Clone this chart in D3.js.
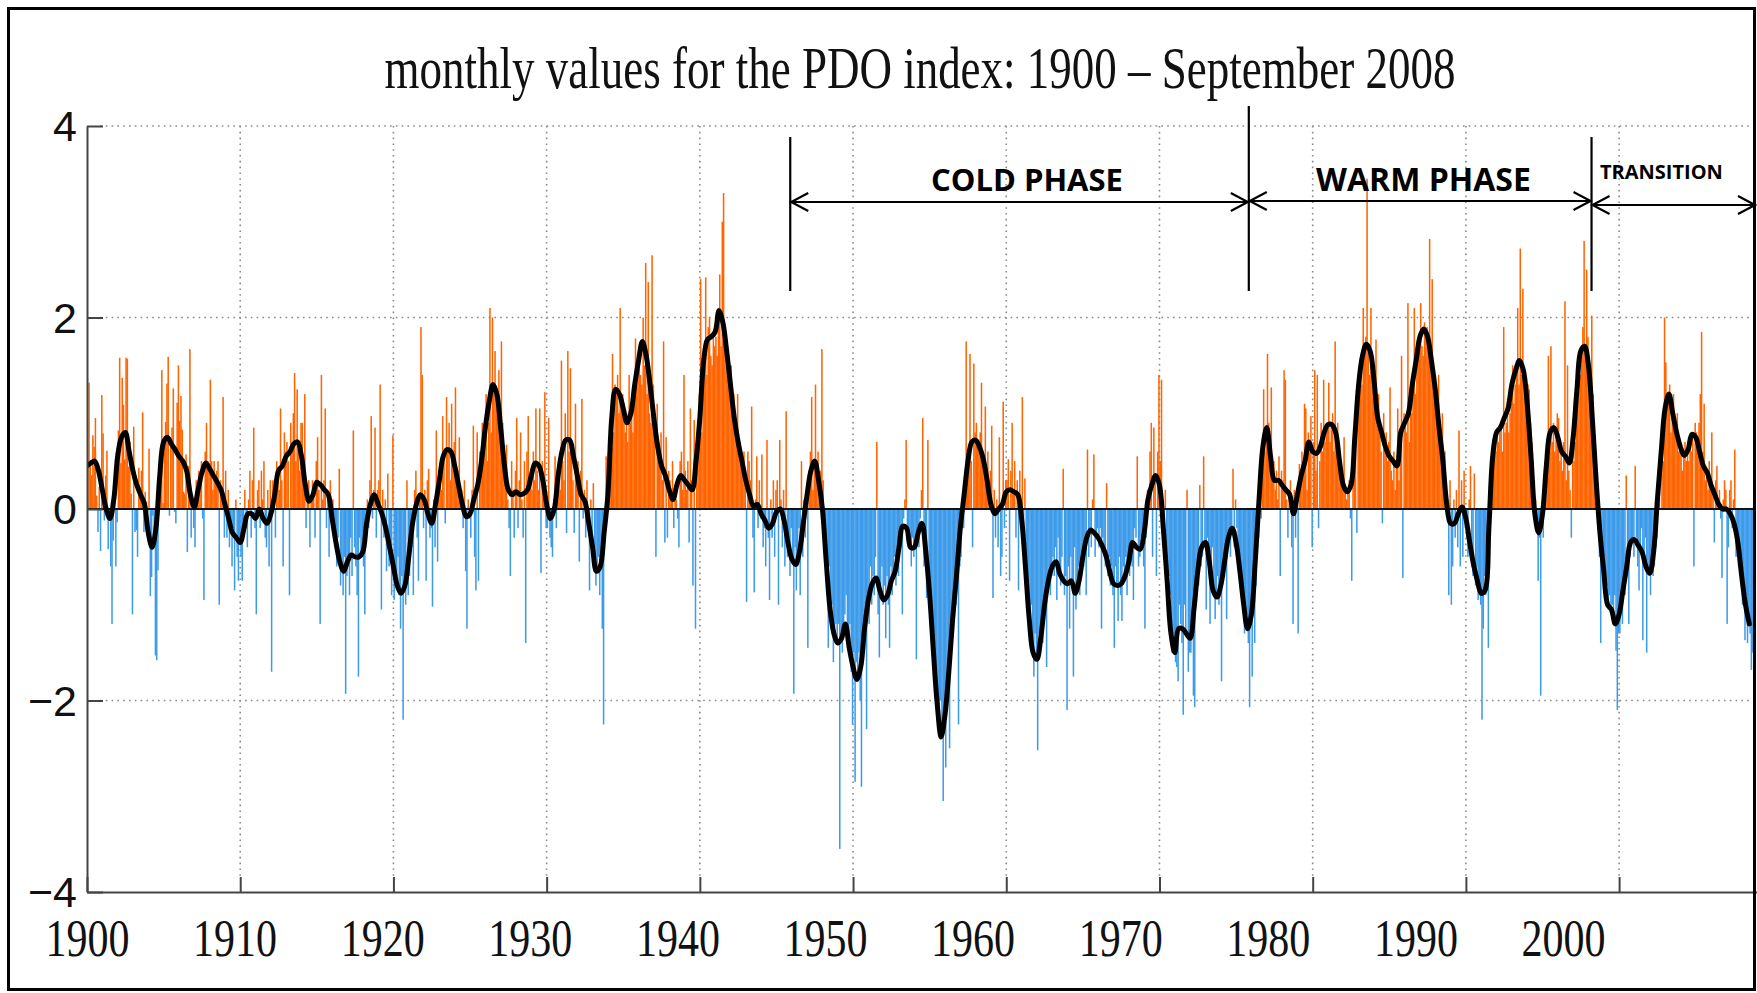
<!DOCTYPE html>
<html>
<head>
<meta charset="utf-8">
<script src="https://cdn.jsdelivr.net/npm/d3@7/dist/d3.min.js"></script>
<style>
  html, body { margin: 0; padding: 0; background: #fff; }
  svg { display: block; }
</style>
</head>
<body>
<svg id="chart"></svg>
<script>
(function () {
  'use strict';

  // monthly PDO values, one row per year (Jan..Dec)
  var pdo1900s = [
    [0.04, 1.32, 0.49, 0.35, 0.77, 0.65, 0.95, 0.14, -0.24, 0.23, -0.44, 1.19],
    [0.79, -0.12, 0.35, 0.61, -0.42, -0.05, -0.60, -1.20, -0.33, 0.16, -0.60, -0.14],
    [0.82, 1.58, 0.48, 1.37, 1.09, 0.52, 1.58, 1.57, 0.44, 0.70, 0.16, -1.10],
    [0.86, -0.24, -0.22, -0.50, 0.43, 0.23, 0.40, 1.01, -0.24, 0.18, 0.08, -0.03],
    [0.63, -0.91, -0.71, -0.07, -0.22, -1.53, -1.58, -0.64, 0.06, 0.43, 1.45, 0.06],
    [0.73, 0.91, 1.31, 1.59, -0.07, 0.69, 0.85, 1.26, -0.03, -0.15, 1.11, 1.50],
    [0.92, 1.18, 0.83, 0.18, 0.16, 0.57, -0.45, 0.45, 1.67, -0.3, 0.1, -0.2],
    [-0.4, 0.3, 0.1, 0.4, 0.2, 0.5, -0.1, -0.95, 0.6, 0.9, 0.5, 0.4],
    [1.35, 0.5, 0.2, 0.5, 0.3, 0.4, 0.5, -1.0, 0.3, 0.2, 1.17, -0.3],
    [0.4, -0.3, 0.2, -0.4, -0.1, -0.6, -0.2, -0.85, 0.1, -0.5, -0.75, -0.3]
  ];
  var pdo1910s = [
    [-0.5, -0.75, -0.3, 0.2, -0.2, -0.4, 0.1, 0.4, -0.3, 0.3, 0.85, -0.2],
    [-1.1, 0.2, 0.3, -0.2, 0.4, 0.1, 0.5, -0.3, -0.4, 0.2, -0.6, 0.3],
    [-1.7, 0.3, 0.1, -0.3, 0.5, 0.4, 0.2, 1.05, 0.3, -0.6, 0.8, 0.6],
    [0.7, 0.5, -0.9, 0.9, 0.6, 1.0, 1.42, 0.5, 1.25, 0.6, 0.4, 0.9],
    [0.9, 0.4, 1.2, -0.2, 0.2, 0.3, -0.4, 0.1, 0.3, 0.2, -0.3, 0.5],
    [0.75, 0.2, -1.2, 1.4, 0.1, 0.3, 1.05, -0.2, 0.2, -0.5, 0.3, 0.1],
    [0.1, -0.3, -0.2, -0.6, -0.3, 0.42, -0.8, -0.6, -0.9, -0.5, -1.93, -0.7],
    [-0.6, -0.9, -0.3, -0.7, 0.82, -0.4, -0.6, -0.9, -1.75, -0.3, -0.5, -0.4],
    [-0.6, -1.1, -0.3, 0.1, -0.2, 0.3, 0.97, -0.1, 0.2, 0.85, -0.3, 0.2],
    [0.3, 1.3, -1.05, 0.2, -0.3, 0.1, -0.65, 0.37, -0.6, -0.4, -0.9, 0.77]
  ];
  var pdo1920s = [
    [-0.95, -0.6, -0.8, -0.5, -0.9, -1.25, -0.7, -2.2, -0.8, -1.0, 0.3, -0.9],
    [-0.7, -0.3, -0.4, -0.9, 0.2, 0.4, -0.3, -0.75, 0.1, 1.9, 1.4, -0.2],
    [0.2, -0.75, 0.3, 0.42, -0.3, -0.2, -1.02, 0.1, -0.4, 0.82, -0.55, 0.4],
    [0.4, 0.2, 0.97, 0.5, -0.15, 1.17, 0.6, 0.9, 0.3, 1.1, 0.5, 0.7],
    [1.27, 0.3, 0.4, 0.75, 0.1, 0.2, -0.2, 0.3, -0.65, -1.25, 0.1, -0.1],
    [-0.3, 0.2, 0.87, -0.5, -0.85, 0.8, -0.75, 0.6, 0.4, 0.9, 0.5, 0.7],
    [1.2, 0.5, 0.9, 2.1, 0.8, 2.0, 1.3, 1.65, 1.1, 1.2, 1.45, 1.0],
    [1.75, 0.9, 0.6, 0.3, 0.67, 0.1, -0.2, -0.7, 0.5, 0.2, -0.3, 0.4],
    [0.95, -0.2, 0.3, 0.8, 0.1, -0.3, 0.5, -1.4, 0.6, 0.97, 0.2, 0.3],
    [0.2, 0.6, 0.3, 1.05, 0.4, 0.2, 1.05, -0.67, 0.5, 0.3, 1.22, -0.2]
  ];
  var pdo1930s = [
    [-0.2, 0.95, -0.3, -0.4, -0.5, 0.1, 0.55, -0.2, 0.3, 0.4, 0.2, 1.55],
    [0.5, 0.3, 1.0, -0.25, 1.65, 0.6, 1.47, 0.7, 0.3, -0.25, 1.1, 0.4],
    [0.5, -0.55, 0.4, 1.15, -0.1, 0.2, -0.3, 0.3, -0.2, -0.85, 0.1, -0.4],
    [0.27, -0.6, -0.8, -0.65, -0.5, -0.9, -0.6, -1.25, -2.25, -0.3, 0.55, 0.1],
    [0.2, 0.5, 1.0, 1.62, 0.8, 1.3, 1.2, 1.4, 1.0, 2.1, 1.1, 1.2],
    [1.1, 0.8, 1.0, 0.7, 1.4, 0.9, 1.0, 0.8, 1.2, 1.78, 1.3, 1.5],
    [1.65, 1.4, 1.3, 2.0, 1.5, 2.57, 1.2, 2.37, 1.0, 0.9, 2.65, 1.3],
    [0.9, -0.5, 1.1, 0.7, 0.5, 0.8, 0.3, 1.75, -0.35, 0.75, -0.3, 0.4],
    [0.3, 0.1, 0.5, -0.2, 0.2, 0.1, -0.1, -0.4, 0.5, 0.6, 0.2, 1.4],
    [0.4, 0.2, 0.5, -0.35, 1.05, 0.3, -0.8, 0.93, -1.25, 0.6, 0.9, 1.2]
  ];
  var pdo1940s = [
    [2.4, 0.8, 1.3, 1.6, 2.42, 1.4, 1.9, 2.0, 1.6, 1.5, 1.8, 1.7],
    [1.8, 1.6, 2.1, 2.45, 1.7, 3.0, 3.3, 1.9, 1.5, 1.7, 1.6, 1.4],
    [1.5, 1.1, 1.2, 0.9, 0.8, 1.2, 0.6, 0.7, 0.5, 0.4, 0.6, 0.4],
    [-0.97, 0.6, 0.5, 0.3, 1.07, -0.3, -0.87, 0.1, 0.55, -0.2, 0.3, -0.1],
    [0.57, -0.4, -0.2, -0.6, 0.72, -0.3, -0.95, 0.1, -0.3, 0.3, -0.5, 0.2],
    [0.3, -1.0, 0.72, 0.1, -0.4, 0.2, -0.6, 1.02, -0.5, -0.3, -0.7, -0.2],
    [-0.5, -1.93, -0.4, -0.85, -0.6, -0.2, -0.9, 0.5, -0.5, 0.1, -0.3, 0.2],
    [-1.45, 0.4, 0.6, 1.17, 0.2, 0.5, 1.3, 0.3, 0.6, 0.1, 0.4, 1.67],
    [0.3, -0.4, -0.3, -0.8, -1.45, -0.6, -1.1, -1.0, -1.6, -1.3, -1.2, -1.4],
    [-1.2, -3.55, -1.3, -1.5, -1.2, -1.1, -0.9, -1.4, -1.5, -1.2, -1.7, -2.25]
  ];
  var pdo1950s = [
    [-1.5, -2.85, -1.6, -1.8, -1.5, -2.0, -2.9, -1.4, -1.3, -1.0, -2.3, -0.9],
    [-1.2, -0.6, -1.0, -0.7, -0.9, -0.5, 0.7, -1.1, -1.55, -0.8, -0.6, -1.0],
    [-0.8, -1.35, -0.7, -1.0, -1.45, -0.6, -0.9, -0.7, -0.5, -0.8, -0.4, -0.7],
    [-0.2, -0.4, -1.1, -0.1, 0.1, 0.72, -0.3, -0.2, -0.4, -0.6, -0.3, -0.5],
    [-0.3, -1.57, -0.2, -0.4, -0.1, 0.2, 0.95, -0.6, -0.5, -0.93, 0.72, -0.8],
    [-0.8, -1.0, -1.2, -1.8, -1.6, -1.7, -2.1, -2.25, -2.0, -2.4, -3.05, -2.3],
    [-2.7, -2.0, -1.8, -2.5, -1.5, -1.3, -1.1, -0.9, -1.0, -0.5, -2.25, -0.6],
    [-0.5, 0.1, -0.2, 0.3, 1.75, 0.4, 0.6, 1.62, 0.5, -0.4, 1.52, 0.8],
    [0.9, 0.7, 0.6, 0.8, 1.32, 0.5, 0.4, 1.07, 0.3, 0.6, 0.2, 0.4],
    [0.87, -0.93, 0.2, -0.3, 0.1, -0.4, 0.75, -0.7, -0.5, 1.12, -0.2, 0.3]
  ];
  var pdo1960s = [
    [0.3, 0.52, -0.75, 0.4, 0.9, 0.2, 0.5, -0.3, 0.3, -0.85, 0.4, 0.1],
    [1.17, -0.4, 0.32, -0.8, -0.6, -0.9, -1.2, -1.0, -1.4, -1.75, -1.3, -1.5],
    [-2.52, -1.3, -1.5, -1.2, -1.4, -1.0, -0.9, -1.65, -0.8, -0.6, -0.9, -0.7],
    [-0.5, -0.7, -0.4, -0.95, -0.3, -0.6, -0.8, -0.5, 0.42, -0.9, -0.7, -2.1],
    [-0.6, -1.25, -0.5, -0.8, -1.75, -0.4, -1.05, -0.8, -0.6, -0.9, -0.7, -0.5],
    [-0.6, -0.3, -0.9, 0.62, -0.5, -0.2, -0.4, 0.1, 0.57, -0.5, -0.3, -0.2],
    [-0.4, -0.2, -1.25, -0.3, -0.5, -0.6, 0.27, -0.7, -0.5, -0.8, -0.6, -0.9],
    [-1.45, -0.6, -0.8, -1.17, -0.5, -0.9, -1.17, -0.6, -0.7, -0.5, -0.9, -0.6],
    [-0.7, -0.4, -0.6, -0.95, -0.2, -0.3, 0.55, -0.6, -0.5, -0.3, -0.4, -0.6],
    [-1.25, -0.3, 0.2, 0.1, 0.6, 0.9, -0.5, 0.85, 0.3, -0.7, 0.6, 1.4]
  ];
  var pdo1970s = [
    [0.5, 1.35, -0.1, -0.4, 0.2, -0.6, -1.15, -0.7, -0.9, -1.5, -1.3, -1.4],
    [-1.6, -1.65, -1.8, -1.0, -1.2, -1.4, -2.15, -1.0, -1.3, 0.2, -1.7, -1.5],
    [-1.5, -1.2, -1.95, -2.07, -0.9, -0.7, -0.8, 0.25, -0.6, -0.5, 0.55, -0.4],
    [-1.05, -0.3, -0.5, -1.2, -0.6, -0.4, -0.8, -1.15, -0.9, -0.7, -1.0, -0.8],
    [-1.8, -0.7, -0.6, -0.5, -1.15, -0.4, -0.3, -0.5, -0.2, 0.42, -0.4, 0.1],
    [-0.2, -0.5, -0.75, -0.6, -0.7, -0.9, -1.3, -1.0, -1.1, -1.4, -2.07, -1.2],
    [-1.75, -1.0, -1.4, -0.8, -0.5, -0.3, 0.2, -0.1, 0.5, 1.25, 0.6, 0.8],
    [1.62, 0.9, 0.7, 1.27, 0.3, 0.5, 0.2, 0.4, 0.1, 0.55, -0.7, 0.4],
    [0.3, 1.45, 1.35, 0.1, -0.3, 0.2, 0.3, -0.4, -1.2, 0.2, -0.3, 0.1],
    [-1.3, 0.47, 0.3, 0.6, 0.5, 1.1, 1.05, 0.2, 0.8, 0.6, 0.97, -0.4]
  ];
  var pdo1980s = [
    [0.7, 1.45, 0.4, 1.4, -0.2, 0.5, 0.9, 0.6, 1.35, 0.7, 0.8, 0.9],
    [1.32, 0.7, 0.9, 1.0, 0.6, 1.75, 0.8, 0.9, 0.6, 0.5, 0.4, 0.3],
    [0.75, 0.2, 0.1, 0.22, 0.3, -0.1, -0.75, 0.4, 0.6, 0.8, -0.25, 1.25],
    [1.2, 1.5, 1.3, 2.1, 1.6, 1.8, 3.45, 1.7, 1.4, 2.1, 1.6, 1.5],
    [1.5, 1.77, 1.0, 1.2, 0.9, 0.6, -0.15, 1.0, 0.7, 0.8, 0.5, 0.7],
    [1.27, 0.4, 0.3, 0.6, 0.2, 0.5, 1.05, 0.3, 0.6, 1.6, -0.72, 1.0],
    [0.9, 0.8, 2.15, 0.7, 1.1, 1.0, 1.3, 2.1, 1.2, 1.5, 1.6, 1.7],
    [2.15, 1.7, 1.6, 1.95, 1.8, 1.9, 1.7, 2.82, 1.5, 2.4, 1.3, 1.4],
    [1.3, 1.1, 1.4, 0.9, 0.8, 1.0, 0.5, 0.6, 0.2, 0.1, -0.9, 0.3],
    [-1.0, -0.6, 0.1, -0.3, 0.2, -0.4, 0.82, -0.6, 0.3, -0.5, 0.4, -0.2]
  ];
  var pdo1990s = [
    [-0.3, -0.5, 0.1, 0.45, -0.6, -0.7, 0.37, -0.8, -0.6, -0.95, -0.9, -1.0],
    [-2.2, -1.25, -0.7, -0.9, -0.6, -1.45, -0.3, 0.2, 0.65, 0.5, 0.7, 0.6],
    [0.8, 0.7, 0.87, 0.9, 0.6, 1.9, 0.8, 0.9, 1.15, 0.8, 1.0, 1.1],
    [1.5, 1.1, 1.3, 1.4, 2.1, 1.3, 2.72, 1.4, 2.3, 1.2, 1.3, 1.1],
    [1.3, 1.25, 0.9, 0.7, 0.5, 0.3, 0.1, -0.2, -0.75, -0.3, -1.95, -0.2],
    [-0.3, 0.2, 0.1, 0.5, 1.6, 0.6, 1.7, 0.7, 0.9, 0.6, 0.8, 1.0],
    [0.95, 0.5, 0.6, 0.4, 0.7, 2.17, 0.3, 1.5, 0.4, 0.2, -0.3, 0.6],
    [0.5, 0.7, 0.9, 1.2, 1.55, 1.4, 1.6, 1.9, 2.8, 1.7, 2.5, 1.8],
    [1.6, 1.3, 2.02, 1.2, 0.8, 0.6, 0.3, 0.2, -0.5, -1.4, -0.3, -0.6],
    [-0.5, -0.9, -0.8, -1.05, -0.9, -1.1, -1.0, -1.2, -0.9, -1.48, -2.1, -1.3]
  ];
  var pdo2000s = [
    [-1.3, -1.0, -1.2, -0.7, -0.9, 0.35, -0.6, -1.2, -0.5, -0.4, -0.3, -0.5],
    [0.45, -0.3, -0.6, -0.85, -0.4, -0.2, -1.37, -0.5, -0.3, -1.5, -0.6, -0.7],
    [-0.9, -0.5, -0.7, -0.6, -0.4, -0.3, 0.1, 0.2, 0.0, 0.6, 0.5, 2.0],
    [1.53, 1.2, 1.1, 1.3, 0.8, 1.0, 1.2, 0.9, 0.8, 1.0, 0.6, 0.7],
    [0.67, 0.4, 0.6, 0.7, 0.5, 0.62, 0.5, 0.7, 0.6, 0.8, -0.6, 0.9],
    [0.8, 0.7, 0.9, 1.2, 1.85, 0.6, 1.1, 0.3, 0.4, 0.2, 0.5, 0.3],
    [0.8, 0.2, -0.35, 0.3, 0.45, 0.1, 0.2, -0.1, -0.72, 0.1, 0.3, 0.2],
    [-1.2, -0.4, 0.2, 0.3, -0.2, 0.1, 0.62, -0.5, -0.3, -0.6, -0.4, -0.8],
    [-1.0, -0.8, -1.37, -0.9, -1.4, -1.1, -1.3, -1.68, -1.5]
  ];

  // smoothed curve (black line), one value per quarter from Jan 1900
  var pdoSmooth = [
    0.45, 0.48, 0.5, 0.4,   0.2, 0.0, -0.1, 0.1,   0.55, 0.75, 0.8, 0.6,   0.4, 0.25, 0.15, 0.05,
    -0.25, -0.4, -0.2, 0.35,   0.7, 0.75, 0.68, 0.62,   0.55, 0.5, 0.4, 0.15,   0.02, 0.2, 0.38, 0.48,
    0.42, 0.35, 0.28, 0.2,   0.05, -0.1, -0.25, -0.3,
    -0.35, -0.2, -0.05, -0.05,   -0.1, 0.0, -0.1, -0.15,   -0.05, 0.15, 0.4, 0.45,   0.55, 0.6, 0.68, 0.7,
    0.55, 0.25, 0.08, 0.15,   0.28, 0.25, 0.2, 0.15,   -0.1, -0.35, -0.55, -0.65,   -0.55, -0.48, -0.5, -0.5,
    -0.45, -0.15, 0.05, 0.15,   0.05, -0.05, -0.2, -0.4,
    -0.6, -0.8, -0.88, -0.8,   -0.5, -0.15, 0.05, 0.15,   0.1, -0.05, -0.15, 0.05,   0.3, 0.55, 0.62, 0.6,
    0.45, 0.25, 0.05, -0.08,   -0.05, 0.1, 0.25, 0.5,   0.85, 1.12, 1.3, 1.2,   0.85, 0.45, 0.2, 0.15,
    0.18, 0.15, 0.16, 0.2,   0.35, 0.48, 0.45, 0.3,
    0.05, -0.1, 0.0, 0.35,   0.6, 0.72, 0.72, 0.55,   0.35, 0.15, 0.08, -0.15,   -0.4, -0.65, -0.6, -0.25,
    0.15, 0.95, 1.25, 1.2,   1.05, 0.9, 1.0, 1.3,   1.55, 1.75, 1.6, 1.3,   0.95, 0.65, 0.45, 0.35,
    0.2, 0.1, 0.25, 0.35,   0.3, 0.25, 0.2, 0.5,
    0.95, 1.55, 1.77, 1.8,   1.85, 2.07, 1.95, 1.65,   1.3, 0.95, 0.7, 0.5,   0.3, 0.15, 0.03, 0.05,
    -0.05, -0.12, -0.2, -0.15,   -0.03, 0.0, -0.12, -0.35,   -0.52, -0.58, -0.45, -0.15,   0.15, 0.4, 0.5, 0.3,
    0.0, -0.55, -1.05, -1.3,   -1.4, -1.35, -1.2, -1.45,
    -1.65, -1.78, -1.65, -1.25,   -0.95, -0.78, -0.72, -0.85,   -0.95, -0.9, -0.75, -0.65,   -0.4, -0.18, -0.2, -0.4,
    -0.4, -0.25, -0.15, -0.45,   -0.9, -1.5, -2.05, -2.38,   -2.15, -1.7, -1.15, -0.7,   -0.2, 0.15, 0.5, 0.7,
    0.72, 0.65, 0.52, 0.3,   0.05, -0.05, 0.0, 0.05,
    0.18, 0.2, 0.18, 0.15,   -0.1, -0.6, -1.15, -1.5,   -1.57, -1.35, -1.0, -0.75,   -0.6, -0.55, -0.68, -0.75,
    -0.78, -0.75, -0.88, -0.75,   -0.5, -0.3, -0.22, -0.25,   -0.3, -0.38, -0.48, -0.65,   -0.78, -0.8, -0.78, -0.7,
    -0.55, -0.35, -0.4, -0.42,   -0.25, 0.1, 0.25, 0.35,
    0.25, -0.2, -0.75, -1.3,   -1.5, -1.25, -1.25, -1.3,   -1.35, -1.05, -0.65, -0.4,   -0.35, -0.55, -0.85, -0.92,
    -0.8, -0.55, -0.3, -0.2,   -0.35, -0.65, -1.0, -1.25,   -1.1, -0.55, 0.1, 0.65,   0.85, 0.55, 0.3, 0.3,
    0.25, 0.2, 0.15, -0.05,   0.15, 0.35, 0.5, 0.7,
    0.6, 0.58, 0.65, 0.8,   0.88, 0.88, 0.8, 0.5,   0.25, 0.18, 0.25, 0.75,   1.3, 1.6, 1.72, 1.65,
    1.35, 0.95, 0.8, 0.65,   0.55, 0.5, 0.45, 0.8,   0.9, 1.0, 1.3, 1.55,   1.8, 1.88, 1.8, 1.55,
    1.25, 0.85, 0.5, 0.05,   -0.15, -0.15, -0.05, 0.02,
    -0.1, -0.35, -0.58, -0.75,   -0.88, -0.85, -0.2, 0.55,   0.8, 0.85, 0.95, 1.05,   1.3, 1.45, 1.55, 1.45,
    1.1, 0.55, -0.05, -0.25,   -0.05, 0.45, 0.8, 0.85,   0.75, 0.6, 0.55, 0.48,   0.75, 1.25, 1.65, 1.7,
    1.5, 0.95, 0.3, -0.25,   -0.65, -1.0, -1.05, -1.2,
    -1.1, -0.85, -0.6, -0.35,   -0.32, -0.38, -0.45, -0.6,   -0.67, -0.45, 0.1, 0.6,   1.05, 1.2, 1.0, 0.8,
    0.65, 0.56, 0.62, 0.78,   0.75, 0.6, 0.45, 0.38,   0.25, 0.15, 0.05, 0.0,   0.0, -0.05, -0.15, -0.35,
    -0.7, -1.0, -1.2
  ];

  var yearTicks = [1900, 1910, 1920, 1930, 1940, 1950, 1960, 1970, 1980, 1990, 2000];
  var valueTicks = [4, 2, 0, -2, -4];
  var gridValues = [4, 2, -2];
  var titleText = "monthly values for the PDO index: 1900 \u2013 September 2008";

  // phase annotations: boundary years and labels
  var phaseBounds = [1945.9, 1975.83, 1998.2, 2009.0];
  var phaseNames = ["COLD PHASE", "WARM PHASE", "TRANSITION"];

  var svgW = 1757, svgH = 993;
  var orange = "#ff6400", blue = "#3d9be9";

  var monthly = [].concat(pdo1900s, pdo1910s, pdo1920s, pdo1930s, pdo1940s,
      pdo1950s, pdo1960s, pdo1970s, pdo1980s, pdo1990s, pdo2000s)
    .reduce(function (a, row) { return a.concat(row); }, [])
    .map(function (v, i) { return {t: 1900 + i / 12, v: v}; });

  var smooth = pdoSmooth.map(function (v, i) { return {t: 1900 + i / 4, v: v}; });

  var x = d3.scaleLinear().domain([1900, 2009]).range([87, 1757]);
  var y = d3.scaleLinear().domain([-4, 4]).range([892, 126]);
  // the year labels in the picture sit on their own, tighter spacing
  var xLabel = d3.scaleLinear().domain([1900, 2000]).range([87, 1563]);

  var svg = d3.select("#chart").attr("width", svgW).attr("height", svgH)
    .style("font-family", "'Liberation Serif', 'Times New Roman', serif");

  svg.append("rect").attr("width", svgW).attr("height", svgH).attr("fill", "#fff");

  svg.append("defs").append("clipPath").attr("id", "plotClip")
    .append("rect").attr("x", 87).attr("y", 0).attr("width", 1667).attr("height", svgH);

  // dotted grid
  var grid = svg.append("g").attr("stroke", "#8a8a8a").attr("stroke-width", 1.6)
    .attr("stroke-dasharray", "1.6,4.2").attr("fill", "none");
  grid.selectAll("line.h").data(gridValues).enter().append("line")
    .attr("class", "h")
    .attr("x1", 100).attr("x2", 1754)
    .attr("y1", function (d) { return y(d); }).attr("y2", function (d) { return y(d); });
  grid.selectAll("line.v").data(yearTicks.slice(1)).enter().append("line")
    .attr("class", "v")
    .attr("x1", function (d) { return x(d); }).attr("x2", function (d) { return x(d); })
    .attr("y1", y(4)).attr("y2", y(-4) - 14);

  // monthly bars
  var bw = x(1900 + 1 / 12) - x(1900);
  svg.append("g").attr("clip-path", "url(#plotClip)")
    .selectAll("rect").data(monthly).enter().append("rect")
    .attr("x", function (d) { return x(d.t); })
    .attr("width", bw + 0.25)
    .attr("y", function (d) { return y(Math.max(0, d.v)); })
    .attr("height", function (d) { return Math.abs(y(d.v) - y(0)); })
    .attr("fill", function (d) { return d.v >= 0 ? orange : blue; });

  // zero line
  svg.append("line").attr("x1", 87).attr("x2", 1754).attr("y1", y(0)).attr("y2", y(0))
    .attr("stroke", "#111").attr("stroke-width", 2);

  // smoothed curve
  var line = d3.line()
    .x(function (d) { return x(d.t); })
    .y(function (d) { return y(d.v); })
    .curve(d3.curveCatmullRom);
  svg.append("path").datum(smooth)
    .attr("clip-path", "url(#plotClip)")
    .attr("d", line)
    .attr("fill", "none").attr("stroke", "#000").attr("stroke-width", 5)
    .attr("stroke-linejoin", "round").attr("stroke-linecap", "round");

  // y axis
  var yAxis = svg.append("g").attr("transform", "translate(87,0)")
    .call(d3.axisLeft(y).tickValues(valueTicks).tickSize(-16).tickSizeOuter(0).tickPadding(10)
      .tickFormat(function (d) { return d < 0 ? "\u2212" + Math.abs(d) : d; }));
  yAxis.select(".domain").attr("stroke", "#444").attr("stroke-width", 2);
  yAxis.selectAll(".tick line").attr("stroke", "#444").attr("stroke-width", 2);
  yAxis.selectAll(".tick text")
    .attr("fill", "#111")
    .style("font-family", "'Liberation Sans', Arial, sans-serif")
    .style("font-size", "43px")
    .attr("dy", "0.34em");

  // x axis: ticks on the data scale, labels on their own scale
  var xAxis = svg.append("g").attr("transform", "translate(0," + y(-4) + ")")
    .call(d3.axisBottom(x).tickValues(yearTicks).tickSize(-15).tickSizeOuter(0).tickFormat(""));
  xAxis.select(".domain").attr("stroke", "#444").attr("stroke-width", 2);
  xAxis.selectAll(".tick line").attr("stroke", "#444").attr("stroke-width", 2);

  var xLabels = svg.append("g").attr("transform", "translate(0," + y(-4) + ")")
    .call(d3.axisBottom(xLabel).tickValues(yearTicks).tickSize(0).tickFormat(d3.format("d")));
  xLabels.select(".domain").remove();
  xLabels.selectAll(".tick text")
    .attr("y", 0).attr("dy", 0)
    .attr("transform", "translate(0,64) scale(1,1.25)")
    .attr("fill", "#111")
    .style("font-family", "'Liberation Serif', 'Times New Roman', serif")
    .style("font-size", "42px");

  // title
  svg.append("text")
    .attr("transform", "translate(920,88) scale(1,1.3)")
    .attr("text-anchor", "middle")
    .attr("fill", "#111")
    .style("font-size", "45px")
    .text(titleText);

  // phase annotations
  var ann = svg.append("g").attr("stroke", "#000").attr("stroke-width", 2.2).attr("fill", "none");
  var vTops = [137, 106, 137];
  phaseBounds.slice(0, 3).forEach(function (b, i) {
    ann.append("line").attr("x1", x(b)).attr("x2", x(b)).attr("y1", vTops[i]).attr("y2", 291);
  });
  var arrowY = [202, 201, 205];
  function chevron(tipX, yy, dir) {
    return "M" + (tipX + dir * 17) + "," + (yy - 9) + "L" + tipX + "," + yy + "L" + (tipX + dir * 17) + "," + (yy + 9);
  }
  phaseNames.forEach(function (name, i) {
    var a = x(phaseBounds[i]) + 1, b = Math.min(x(phaseBounds[i + 1]) - 1, 1755);
    ann.append("line").attr("x1", a).attr("x2", b).attr("y1", arrowY[i]).attr("y2", arrowY[i]);
    ann.append("path").attr("d", chevron(a, arrowY[i], 1));
    ann.append("path").attr("d", chevron(b, arrowY[i], -1));
  });

  var labelX = [931, 1316, 1600], labelY = [191, 191, 179], labelSize = [31, 32, 20];
  phaseNames.forEach(function (name, i) {
    svg.append("text").attr("x", labelX[i]).attr("y", labelY[i])
      .attr("fill", "#000")
      .style("font-family", "'Open Sans', 'DejaVu Sans', sans-serif")
      .style("font-weight", "700")
      .style("font-size", labelSize[i] + "px")
      .text(name);
  });

  // outer frame
  svg.append("rect").attr("x", 8.5).attr("y", 8.5).attr("width", 1746).attr("height", 981)
    .attr("fill", "none").attr("stroke", "#000").attr("stroke-width", 3);
}());
</script>
</body>
</html>
